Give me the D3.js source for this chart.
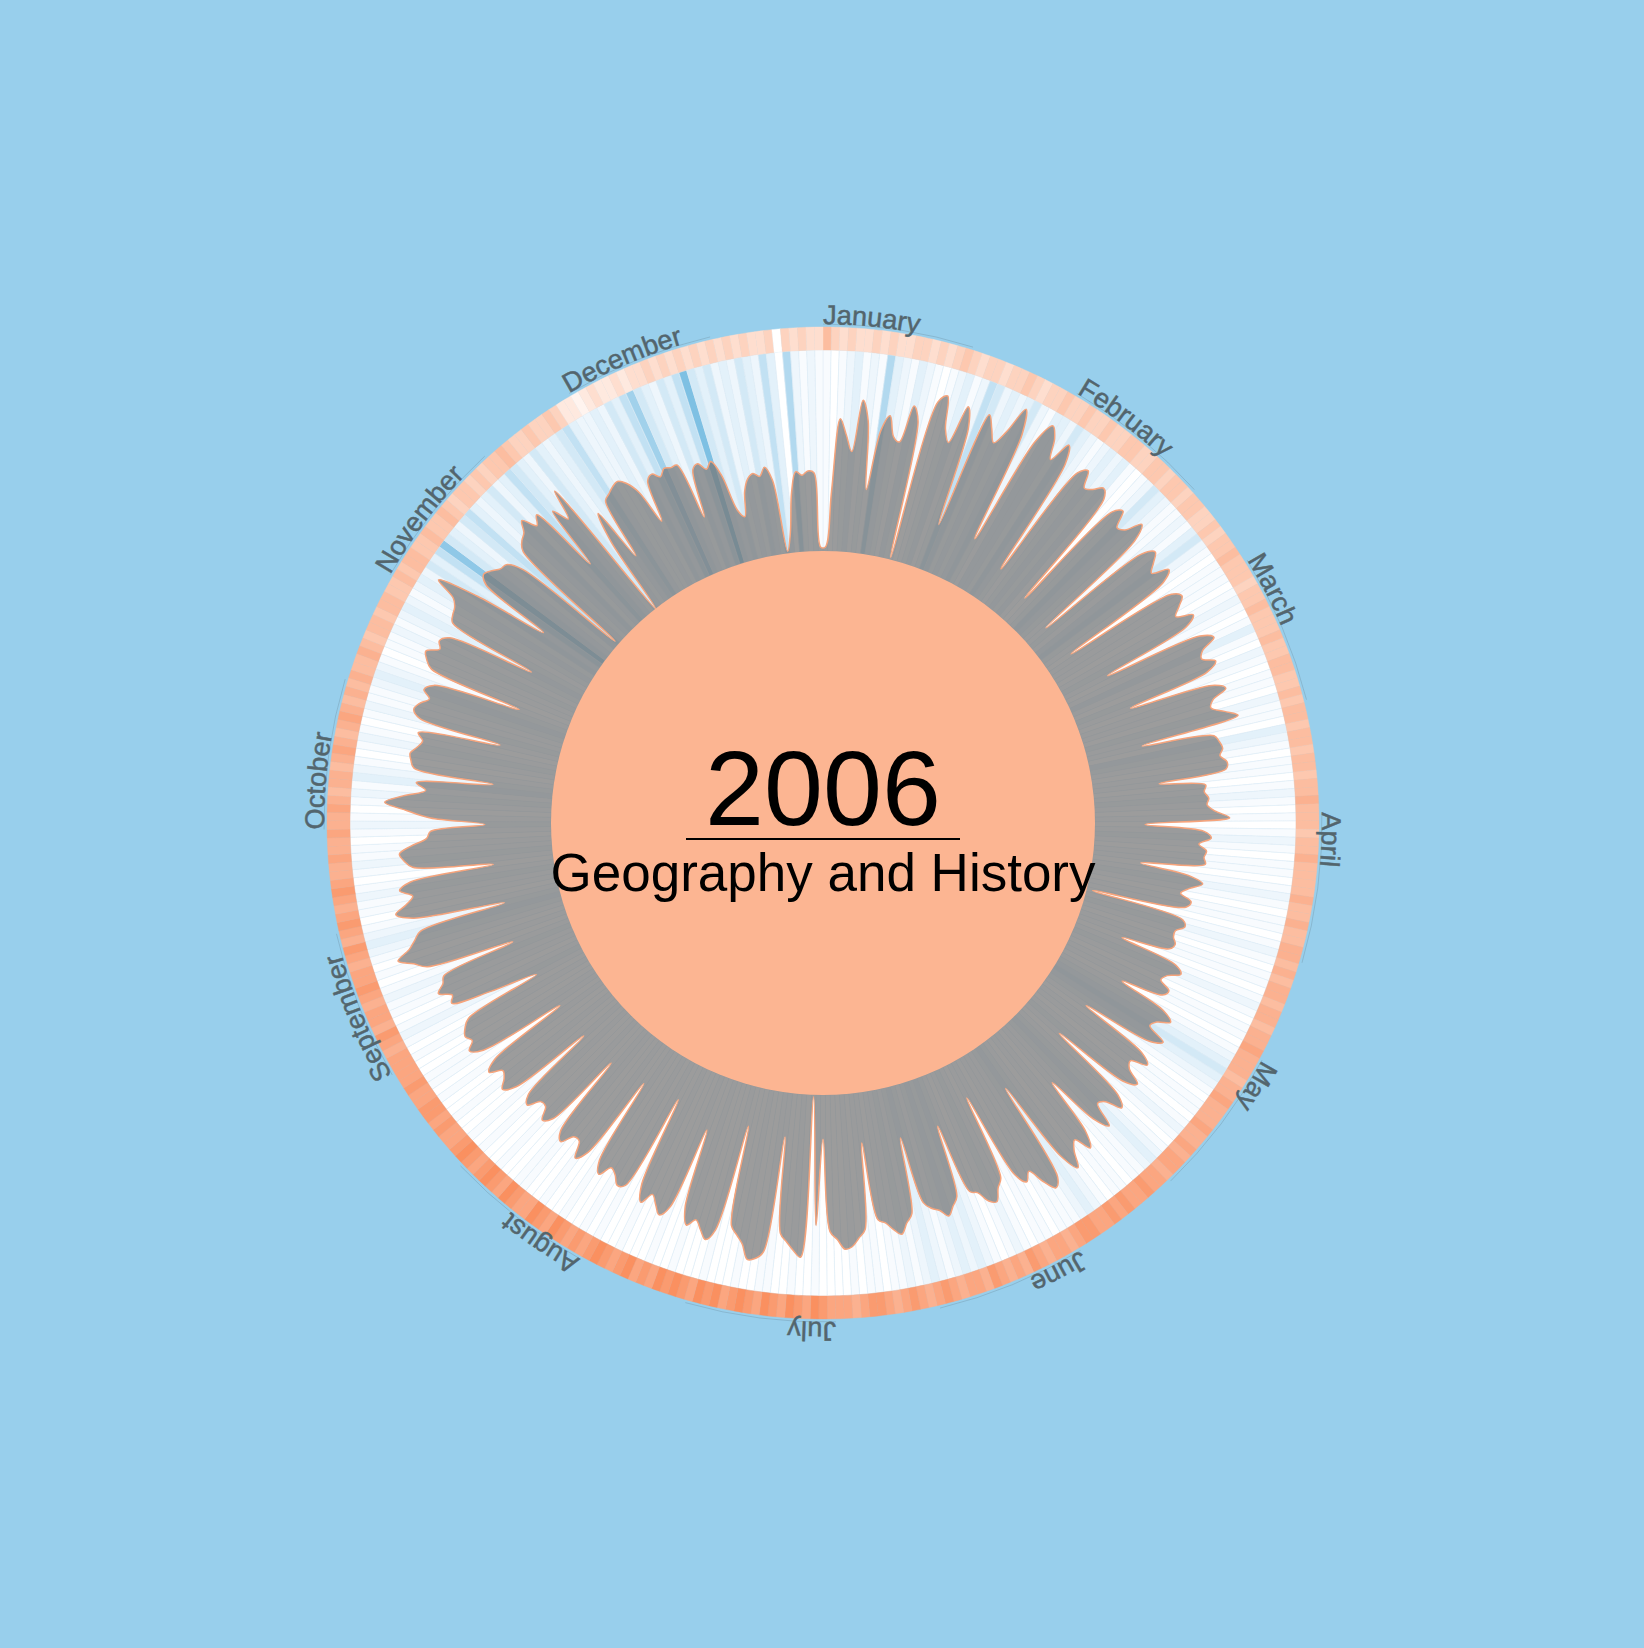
<!DOCTYPE html>
<html><head><meta charset="utf-8">
<script src="https://cdn.jsdelivr.net/npm/d3@7"></script>
<style>html,body{margin:0;padding:0;background:#98cfec;} svg{display:block}</style>
</head><body>
<svg id="chart" width="1644" height="1648"></svg>
<script>
const months = ["January","February","March","April","May","June","July","August","September","October","November","December"];
const monthStarts = [0,31,59,90,120,151,181,212,243,273,304,334];
const yearLabel = "2006";
const subjectLabel = "Geography and History";

// daily activity (gray area), 0-100
const activity = [
 2,30,66,58,50,76,66, 32,62,70,60,58,77,70, 1,82,86,70,64,84,74, 24,84,78,72,80,94,82, 25,82,93,
 88,78,89,80, 19,80,84,76,78,82,78, 15,76,80,72,74,82,74, 12,72,78,74,70,78,72, 14,72,76,
 72,68,76,70, 24,74,80,72,70,76,70, 28,70,76,68,66,72,78, 28,64,66,67,65,68,67, 33,56,55,57,56,60,
 67, 25,54,58,52,56,55,56, 24,48,56,50,46,52,50, 3,50,52,48,48,50,48, 24,54,58,52,50,56,54, 33,
 58,64,58,56,66,60, 24,60,66,58,60,68,62, 22,64,70,62,60,72,64, 37,66,74,66,70,78,68, 25,76,80,74,
 66,70,64, 19,62,66,72,70,64,62, 26,62,66,70,66,64,60, 26,64,68,73,70,66,64, 25,68,72,76,77,72,
 68, 22,65,1,81,78,74,70, 22,80,84,85,78,74,70, 20,74,80,76,72,76,68, 28,70,76,72,68,74,66, 20,70,
 72,68,66,72,66, 22,66,72,64,64,70,66, 24,64,68,62,62,68,64, 24,66,72,68,66,72,66, 24,68,74,70,72,
 70,66, 26,50,70,68,74,70,68, 30,74,80,87,80,76,72, 28,74,82,76,72,78,72, 30,70,74,76,70,62,60,
 33,60,72,83,74,63,68, 30,70,72,73,70,68,71, 30,72,76,74,70,74,70, 26,74,78,80,74,76,72, 28,74,76,
 77,80,91,70, 33,70,74,72,69,68,60, 2,66,70,72,77,70,74, 38,70,62,77,0,40,55, 27,58,60,62,63,
 60,53, 35,56,58,55,58,57,57, 28,52,54,50,53,45,26, 22,34,40,42,40,44,37, 1,10,30,40,38,40,39, 2
];

// daily blue bar intensity, 0-10
const rain = [
 1,0,1,2,3,1,2,1,6,3,2,1,3,2,1,0,1,2,3,1,2,5,4,2,3,2,3,4,2,1,3,
 3,2,4,3,2,1,2,3,2,3,1,0,1,2,4,3,2,1,1,2,1,3,4,2,1,0,1,1,
 1,0,1,2,1,0,1,3,1,0,2,1,0,1,1,0,2,1,1,0,3,2,1,0,1,1,0,1,2,1,0,
 1,0,1,2,1,0,1,1,0,1,2,1,0,1,1,0,1,2,1,0,1,1,0,1,2,1,0,1,1,0,
 1,2,3,4,3,2,1,0,1,1,0,1,2,1,0,1,2,3,2,1,1,0,1,1,0,1,2,3,2,1,1,
 1,0,1,1,0,1,2,1,0,1,2,3,2,3,2,1,2,3,2,1,2,1,1,0,1,1,0,1,0,0,
 0,0,1,0,0,1,0,0,1,1,0,0,1,0,0,0,1,0,0,0,1,0,0,1,0,0,0,1,0,0,1,
 0,1,0,0,1,0,0,1,0,0,1,1,0,0,1,0,0,1,0,1,0,0,1,0,0,1,0,1,1,0,0,
 1,0,1,2,1,0,1,1,2,1,0,1,0,1,2,3,2,1,0,1,1,2,1,0,1,2,1,1,0,1,
 2,1,0,1,2,1,3,2,1,0,1,2,1,0,1,2,1,1,2,3,2,1,0,1,1,2,1,2,3,2,1,
 2,3,2,4,3,5,8,4,3,2,4,5,3,2,3,4,2,3,5,4,3,2,4,3,2,3,4,5,3,2,
 2,3,2,4,3,5,7,4,3,2,4,3,5,9,4,3,4,2,3,2,4,3,2,5,3,0,6,2,1,2,1
];

// daily ring intensity, 0-10 (-1 = no data)
const temperature = [
 5,3,2,3,2,2,3,2,3,2,2,3,3,2,3,2,3,4,3,2,3,3,2,3,3,4,3,2,3,3,4,
 3,3,4,3,3,4,3,3,4,4,3,3,4,4,3,4,4,3,4,4,3,3,4,3,4,4,5,4,
 4,4,3,4,4,5,4,4,4,5,4,4,5,5,4,4,5,4,5,5,4,5,5,4,5,5,4,5,5,6,5,
 5,5,4,5,5,6,5,5,5,5,6,5,5,6,5,5,6,6,5,6,5,6,6,5,6,6,5,6,6,7,
 6,6,6,5,6,6,7,6,6,6,7,6,6,7,6,7,7,6,7,7,8,7,7,8,7,8,7,7,8,8,7,
 6,7,7,6,7,8,6,7,6,7,8,6,7,7,6,7,8,7,6,7,8,7,6,7,8,8,7,6,7,7,
 7,8,9,7,8,9,7,8,9,7,8,9,8,7,9,8,9,7,8,9,8,9,7,8,7,9,8,7,8,9,8,
 7,8,7,8,9,7,8,9,7,7,8,9,7,8,9,8,7,8,9,8,7,7,8,7,8,8,7,7,8,7,7,
 7,7,6,7,8,6,7,7,6,7,8,7,7,6,7,8,6,7,8,7,6,7,8,7,6,6,7,6,6,7,
 6,6,7,6,5,6,6,5,6,7,6,5,6,7,6,5,6,5,6,5,5,6,5,4,5,5,4,5,5,4,4,
 5,4,5,5,4,4,5,4,4,5,4,3,4,4,3,4,3,4,4,5,4,3,3,4,3,3,4,3,1,1,
 0,1,2,1,1,2,1,2,2,3,2,3,2,3,2,3,2,3,2,3,2,3,2,2,3,-1,3,2,3,2,2
];

const W = 1644, H = 1648, cx = 823, cy = 823;
const R_IN = 272, R_BAR = 473, R_RING = 496, R_LABEL = 499;

const svg = d3.select("#chart");
svg.append("rect").attr("width", W).attr("height", H).attr("fill", "#98cfec");
const g = svg.append("g").attr("transform", `translate(${cx},${cy})`);

const nDays = activity.length;
const angle = d3.scaleLinear().domain([0, nDays]).range([0, 2 * Math.PI]);
const radius = d3.scaleLinear().domain([0, 100]).range([R_IN, R_BAR]);
const rainColor = d3.scaleLinear().domain([0, 1, 3, 6, 10])
  .range(["#ffffff", "#f8fbfe", "#e3f1fa", "#b2d9ef", "#6cb7df"]);
const tempColor = d3.scaleLinear().domain([0, 10]).range(["#fff4ef", "#f98550"]);
const arc = d3.arc();

// blue bars
g.append("g").selectAll("path").data(rain).join("path")
  .attr("d", (d, i) => arc({innerRadius: R_IN, outerRadius: R_BAR, startAngle: angle(i), endAngle: angle(i + 1)}))
  .attr("fill", d => rainColor(d))
  .attr("stroke", "#e2eff7").attr("stroke-width", 0.6);

// gray activity area
const line = d3.lineRadial()
  .angle((d, i) => angle(i + 0.5))
  .radius(d => radius(d))
  .curve(d3.curveCatmullRomClosed.alpha(0.5));
g.append("path").attr("d", line(activity))
  .attr("fill", "#767676").attr("fill-opacity", 0.72)
  .attr("stroke", "#f6a47c").attr("stroke-width", 1.5);

// outer ring
g.append("g").selectAll("path").data(temperature).join("path")
  .attr("d", (d, i) => arc({innerRadius: R_BAR, outerRadius: R_RING, startAngle: angle(i), endAngle: angle(i + 1)}))
  .attr("fill", d => d < 0 ? "#ffffff" : tempColor(d))
  .attr("stroke", d => d < 0 ? "#ffffff" : tempColor(d)).attr("stroke-width", 0.4);

// inner circle
g.append("circle").attr("r", R_IN).attr("fill", "#fcb592");

// month labels on arcs
const labelSpan = 17.5 * Math.PI / 180;
const ff = "'Liberation Sans', Arial, sans-serif";
const lab = g.append("g");
months.forEach((m, k) => {
  const a0 = angle(monthStarts[k]);
  const p = d3.path();
  p.arc(0, 0, R_LABEL, a0 - Math.PI / 2, a0 + labelSpan - Math.PI / 2);
  lab.append("path").attr("id", "mpath" + k).attr("d", p.toString())
    .attr("fill", "none").attr("stroke", "rgba(80,100,110,0.22)").attr("stroke-width", 1);
  lab.append("text")
    .attr("font-family", ff)
    .attr("font-size", 27).attr("fill", "#53656d")
    .attr("stroke", "#53656d").attr("stroke-width", 0.5)
    .append("textPath").attr("href", "#mpath" + k).text(m);
});

// center texts
g.append("text").attr("x", 0).attr("y", 2).attr("text-anchor", "middle")
  .attr("font-family", ff).attr("font-size", 106).attr("fill", "#000").text(yearLabel);
g.append("line").attr("x1", -137).attr("x2", 137).attr("y1", 16).attr("y2", 16)
  .attr("stroke", "#000").attr("stroke-width", 2);
g.append("text").attr("x", 0).attr("y", 68).attr("text-anchor", "middle")
  .attr("font-family", ff).attr("font-size", 53).attr("fill", "#000").text(subjectLabel);
</script>
</body></html>
